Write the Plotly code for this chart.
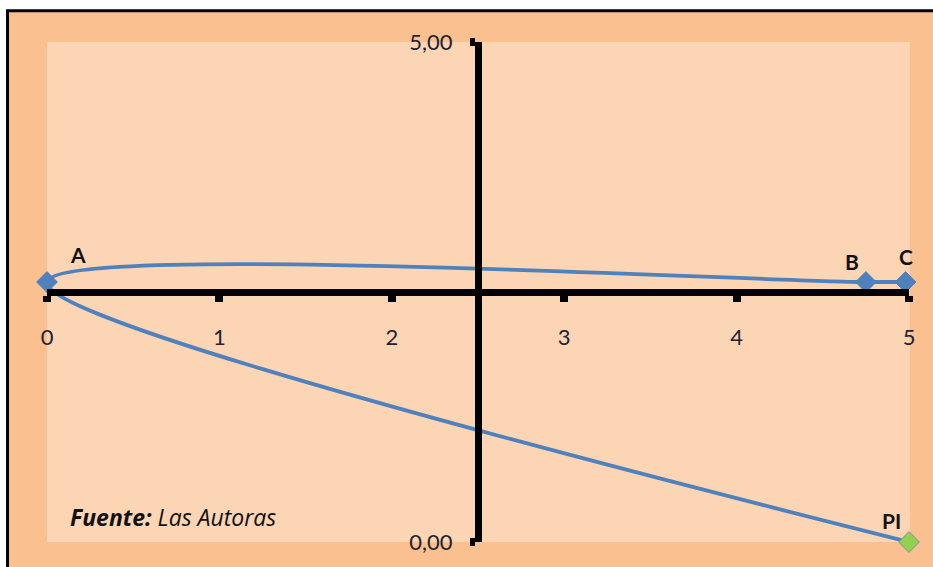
import plotly.graph_objects as go

# Points of the path, in drawing order (smoothed line C -> B -> A -> PI)
point_names = ["C", "B", "A", "PI"]
x_vals = [4.98, 4.75, 0.0, 5.0]
y_vals = [2.6, 2.6, 2.6, 0.0]
marker_colors = ["#4F81BD", "#4F81BD", "#4F81BD", "#92D050"]
marker_lines = ["#4F81BD", "#4F81BD", "#4F81BD", "#7F8FA6"]

# Label offsets (pixels) for each point name
label_shift = {"A": (31, 28), "B": (-14, 21), "C": (0, 26), "PI": (-18, 22)}

x_ticks = [0, 1, 2, 3, 4, 5]
x_tick_text = ["0", "1", "2", "3", "4", "5"]
y_ticks = [0, 5]
y_tick_text = ["0,00", "5,00"]

FONT = "Lato, 'Open Sans', sans-serif"
NOTE_FONT = "'Open Sans', Lato, sans-serif"

fig = go.Figure()

fig.add_trace(go.Scatter(
    x=x_vals, y=y_vals,
    mode="lines+markers",
    line=dict(color="#4F81BD", width=3.8, shape="spline", smoothing=1),
    marker=dict(symbol="diamond", size=16, color=marker_colors,
                line=dict(color=marker_lines, width=1)),
    cliponaxis=False,
    showlegend=False,
    hoverinfo="skip",
))

annotations = []
for name, xv, yv in zip(point_names, x_vals, y_vals):
    dx, dy = label_shift[name]
    annotations.append(dict(
        x=xv, y=yv, xref="x", yref="y", text=f"<b>{name}</b>",
        showarrow=False, xshift=dx, yshift=dy,
        font=dict(family=FONT, size=21, color="#111111"),
    ))

annotations.append(dict(
    x=0.024, y=0.05, xref="paper", yref="paper", xanchor="left", yanchor="middle",
    text="<b><i>Fuente:</i></b><i> Las Autoras</i>", showarrow=False,
    font=dict(family=NOTE_FONT, size=23, color="#111111"),
))

shapes = [
    # outer chart area
    dict(type="rect", xref="paper", yref="paper", x0=-0.0458, x1=1.2, y0=-0.2, y1=1.0625,
         fillcolor="#FAC090", line=dict(color="black", width=3), layer="below"),
    # inner plot area
    dict(type="rect", xref="paper", yref="paper", x0=0, x1=1.001, y0=0, y1=1,
         fillcolor="#FCD5B5", line=dict(width=0), layer="below"),
]

fig.update_layout(
    width=933, height=567,
    margin=dict(l=47, r=24, t=42, b=21),
    paper_bgcolor="white",
    plot_bgcolor="rgba(0,0,0,0)",
    shapes=shapes,
    annotations=annotations,
    xaxis=dict(
        range=[0, 5], tickvals=x_ticks, ticktext=x_tick_text,
        anchor="free", position=0.5,
        showline=True, linecolor="black", linewidth=7,
        ticks="outside", ticklen=6, tickwidth=8, tickcolor="black",
        ticklabelstandoff=17,
        showgrid=False, zeroline=False,
        tickfont=dict(family=FONT, size=22, color="#222233"),
    ),
    yaxis=dict(
        range=[0, 5], tickvals=y_ticks, ticktext=y_tick_text,
        anchor="free", position=0.5,
        showline=True, linecolor="black", linewidth=7,
        ticks="outside", ticklen=5, tickwidth=8, tickcolor="black",
        ticklabelstandoff=13,
        showgrid=False, zeroline=False,
        tickfont=dict(family=FONT, size=22, color="#222233"),
    ),
)

fig.write_html("out.html")
